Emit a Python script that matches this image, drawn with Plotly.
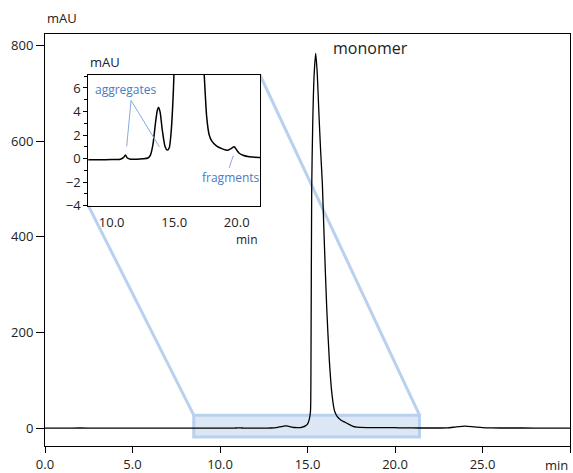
import plotly.graph_objects as go

# ---- data ----
TIME = [0.0, 1.0, 2.0, 3.0, 4.0, 5.0, 6.0, 7.0, 8.0, 9.0, 10.0, 10.7, 10.95, 11.1, 11.25,
        11.5, 12.0, 12.5, 12.9, 13.1, 13.3, 13.5, 13.65, 13.76, 13.88, 14.05, 14.25, 14.45,
        14.6, 14.75, 14.88, 15.0, 15.1, 15.17, 15.2, 15.24, 15.3, 15.38, 15.47, 15.56, 15.65,
        15.75, 15.85, 15.95, 16.1, 16.25, 16.4, 16.55, 16.7, 16.9, 17.15, 17.4, 17.6, 17.8,
        18.0, 18.4, 18.9, 19.25, 19.55, 19.8, 19.95, 20.2, 20.5, 21.0, 21.8, 22.5, 23.0, 23.5,
        24.0, 24.5, 25.0, 25.5, 26.5, 28.0, 30.0]
ABS = [0.0, 0.0, 0.05, 0.0, 0.0, 0.0, -0.05, -0.05, -0.1, -0.1, -0.08, -0.05, 0.1, 0.3, 0.05,
       -0.05, -0.05, -0.02, 0.05, 0.3, 1.2, 3.0, 4.1, 4.35, 3.9, 2.4, 1.1, 0.72,
       0.9, 2.2, 4.5, 8.0, 18, 35, 150, 500, 640, 740, 784, 740, 660,
       580, 510, 400, 250, 140, 70, 35, 24, 17, 12, 7.1, 3.5, 2.0,
       1.5, 1.05, 0.8, 0.7, 0.85, 1.0, 0.8, 0.45, 0.28, 0.15, 0.1, 0.1, 0.3, 2.5,
       4.0, 2.5, 0.8, 0.2, 0.1, 0.0, 0.0]

X_TICKS = [0, 5, 10, 15, 20, 25, 30]
X_TICKTEXT = ["0.0", "5.0", "10.0", "15.0", "20.0", "25.0", ""]
Y_TICKS = [0, 200, 400, 600, 800]
INSET_X_TICKS = [10, 15, 20]
INSET_X_TICKTEXT = ["10.0", "15.0", "20.0"]

# ---- layout parameters ----
XR = [0, 30]
YR = [-37.6, 824.7]
IXR = [8.13, 21.86]
IYR = [-4, 7.1]
INSET_X = [0.0825, 0.4095]
INSET_Y = [0.5833, 0.9005]
ZOOM_BOX = dict(x0=8.5, x1=21.4, y0=-19, y1=27)

FONT = "Open Sans"
TXT = "#222222"
BLUE_TXT = "#4a7bc8"
BOX_LINE = "#b9d1ee"
BOX_FILL = "#dce7f5"

fig = go.Figure()
fig.add_trace(go.Scatter(x=TIME, y=ABS, mode="lines", xaxis="x", yaxis="y",
                         line=dict(color="black", width=1.3, shape="spline", smoothing=0.6),
                         hoverinfo="skip", showlegend=False))
fig.add_trace(go.Scatter(x=TIME, y=ABS, mode="lines", xaxis="x2", yaxis="y2",
                         line=dict(color="black", width=1.5, shape="spline", smoothing=0.6),
                         hoverinfo="skip", showlegend=False))

axis_common = dict(showline=True, linecolor="black", linewidth=1, mirror=True,
                   showgrid=False, zeroline=False, ticks="outside", tickcolor="black",
                   automargin=False,
                   tickfont=dict(size=13, color=TXT, family=FONT))

fig.update_layout(
    width=573, height=473,
    margin=dict(l=45, r=3, t=34, b=27, autoexpand=False),
    paper_bgcolor="white", plot_bgcolor="white",
    font=dict(family=FONT, color=TXT),
    xaxis=dict(range=XR, domain=[0, 1], anchor="y", tickmode="array",
               tickvals=X_TICKS, ticktext=X_TICKTEXT, ticklen=6, **axis_common),
    yaxis=dict(range=YR, domain=[0, 1], anchor="x", tickmode="array",
               tickvals=Y_TICKS, ticklen=8, **axis_common),
    xaxis2=dict(range=IXR, domain=INSET_X, anchor="y2", tickmode="array",
                tickvals=INSET_X_TICKS, ticktext=INSET_X_TICKTEXT, ticklen=5,
                **{**axis_common, "tickcolor": "rgba(0,0,0,0)"}),
    yaxis2=dict(range=IYR, domain=INSET_Y, anchor="x2", tick0=0, dtick=2, ticklen=4,
                minor=dict(dtick=1, ticklen=3, ticks="outside", tickcolor="black"),
                **axis_common),
)

# zoom box and connector lines
ix0 = XR[0] + INSET_X[0] * (XR[1] - XR[0])
ix1 = XR[0] + INSET_X[1] * (XR[1] - XR[0])
iy0 = YR[0] + INSET_Y[0] * (YR[1] - YR[0])
iy1 = YR[0] + INSET_Y[1] * (YR[1] - YR[0])
shapes = [
    dict(type="rect", xref="x", yref="y", layer="below", **ZOOM_BOX,
         fillcolor=BOX_FILL, line=dict(color=BOX_LINE, width=3)),
    dict(type="line", xref="x", yref="y", layer="below",
         x0=ZOOM_BOX["x0"], y0=ZOOM_BOX["y1"], x1=ix0, y1=iy0,
         line=dict(color=BOX_LINE, width=3)),
    dict(type="line", xref="x", yref="y", layer="below",
         x0=ZOOM_BOX["x1"], y0=ZOOM_BOX["y1"], x1=ix1, y1=iy1,
         line=dict(color=BOX_LINE, width=3)),
    # annotation pointers in the inset
    dict(type="line", xref="x2", yref="y2", x0=11.55, y0=4.94, x1=11.2, y1=1.04,
         line=dict(color="#86aade", width=1)),
    dict(type="line", xref="x2", yref="y2", x0=11.55, y0=4.94, x1=13.81, y1=1.0,
         line=dict(color="#86aade", width=1)),
    dict(type="line", xref="x2", yref="y2", x0=19.73, y0=0.25, x1=19.39, y1=-0.79,
         line=dict(color="#86aade", width=1)),
]
fig.update_layout(shapes=shapes)

ann = [
    dict(text="mAU", xref="paper", yref="paper", x=0, y=1.038, xanchor="left",
         yanchor="middle", showarrow=False, font=dict(size=13, color=TXT)),
    dict(text="min", xref="x", yref="paper", x=30, y=-0.045, xanchor="right",
         yanchor="middle", showarrow=False, font=dict(size=13, color=TXT)),
    dict(text="monomer", xref="x", yref="y", x=16.37, y=795, xanchor="left",
         yanchor="middle", showarrow=False, font=dict(size=16, color=TXT)),
    dict(text="mAU", xref="paper", yref="paper", x=INSET_X[0], y=0.933, xanchor="left",
         yanchor="middle", showarrow=False, font=dict(size=13, color=TXT)),
    dict(text="min", xref="paper", yref="paper", x=INSET_X[1], y=0.501, xanchor="right",
         yanchor="middle", showarrow=False, font=dict(size=12, color=TXT)),
    dict(text="aggregates", xref="x2", yref="y2", x=11.18, y=5.85, xanchor="center",
         yanchor="middle", showarrow=False, font=dict(size=12, color=BLUE_TXT)),
    dict(text="fragments", xref="x2", yref="y2", x=19.52, y=-1.64, xanchor="center",
         yanchor="middle", showarrow=False, font=dict(size=12, color=BLUE_TXT)),
]
fig.update_layout(annotations=ann)

fig.write_html(
    "out.html",
    config={"displayModeBar": False},
    post_script="document.body.style.margin='0';document.body.style.overflow='hidden';",
)
